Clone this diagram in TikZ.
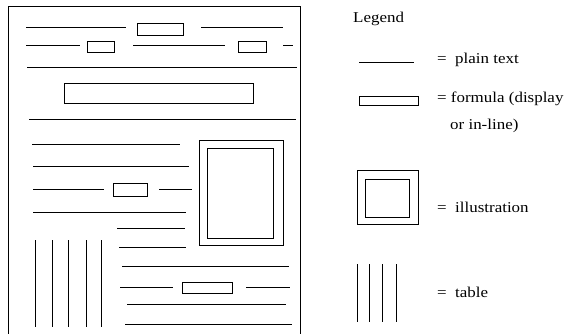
\documentclass[tikz,border=0pt]{standalone}
\usepackage{fontspec}
\setmainfont{Liberation Serif}[FakeStretch=1.13]
\begin{document}
\begin{tikzpicture}[x=1pt,y=-1pt,
  txt/.style={line width=0.95pt},
  fbox/.style={line width=0.9pt},
  frame/.style={line width=0.8pt},
  lab/.style={anchor=base west,inner sep=0pt,font=\fontsize{15}{18}\selectfont}]
\useasboundingbox (0,0) rectangle (568,334);
% page frame (cut off at bottom)
\draw[frame] (8,334) -- (8,6) -- (300,6) -- (300,334);
% row 1
\draw[txt] (26,27) -- (126,27);
\draw[fbox] (137,23) rectangle (183,35);
\draw[txt] (201,27) -- (283,27);
% row 2
\draw[txt] (26,45) -- (80,45);
\draw[fbox] (87,41) rectangle (114,52);
\draw[txt] (133,45) -- (225,45);
\draw[fbox] (238,41) rectangle (266,52);
\draw[txt] (283,45) -- (293,45);
% row 3
\draw[txt] (27,67) -- (297,67);
% display formula
\draw[fbox] (64,83) rectangle (253,103);
\draw[txt] (29,119) -- (296,119);
% left column text
\draw[txt] (32,144) -- (180,144);
\draw[txt] (33,166) -- (189,166);
\draw[txt] (33,189) -- (104,189);
\draw[fbox] (113,183) rectangle (147,196);
\draw[txt] (159,189) -- (192,189);
\draw[txt] (33,212) -- (186,212);
\draw[txt] (117,228) -- (185,228);
\draw[txt] (119,247) -- (186,247);
% illustration
\draw[fbox] (199,140) rectangle (283,245);
\draw[fbox] (207,148) rectangle (273,238);
% table
\foreach \x in {35,52,68,86,101} \draw[txt] (\x,240) -- (\x,327);
% bottom right text
\draw[txt] (122,266) -- (289,266);
\draw[txt] (120,287) -- (173,287);
\draw[fbox] (182,282) rectangle (232,293);
\draw[txt] (246,287) -- (290,287);
\draw[txt] (127,304) -- (286,304);
\draw[txt] (125,324) -- (292,324);
% legend
\node[lab] (legend) at (353,23) {Legend};
\draw[line width=0.8pt] (359,62) -- (414,62);
\node[lab] (plain) at (437,63.5) {=\ \ plain text};
\draw[fbox] (359,96) rectangle (418,105);
\node[lab] (formula) at (437,103) {= formula (display};
\node[lab] (inline) at (450,130) {or in-line)};
\draw[fbox] (357,170) rectangle (418,224);
\draw[fbox] (365,179) rectangle (409,217);
\node[lab] (illus) at (437,213) {=\ \ illustration};
\foreach \x in {357,369,382,396} \draw[txt] (\x,264) -- (\x,322);
\node[lab] (table) at (437,297) {=\ \ table};
\end{tikzpicture}
\end{document}
